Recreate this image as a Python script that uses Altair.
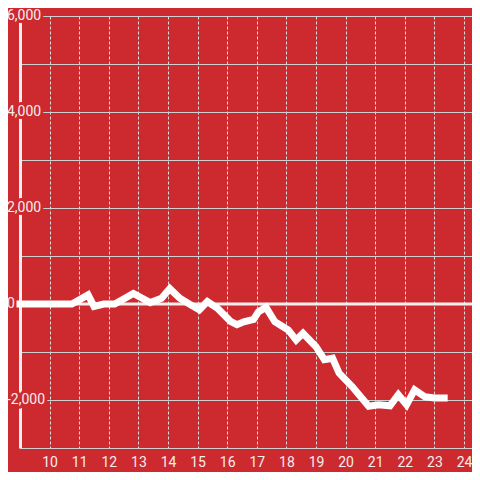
import altair as alt
import pandas as pd

# Series (hour of day, value)
hours = [9.0, 10.75, 11.3, 11.5, 11.83, 12.2, 12.83, 13.4, 13.78, 14.06, 14.4, 14.72,
         15.06, 15.33, 15.67, 16.11, 16.33, 16.56, 16.89, 17.06, 17.31, 17.61, 18.06,
         18.33, 18.56, 19.0, 19.28, 19.56, 19.78, 20.22, 20.78, 21.11, 21.5, 21.78,
         22.06, 22.33, 22.67, 23.0, 23.33]
values = [0, 0, 190, -50, 0, 0, 220, 30, 120, 320, 120, 0,
          -120, 50, -90, -360, -430, -370, -320, -160, -70, -370, -540,
          -750, -610, -890, -1160, -1130, -1440, -1720, -2130, -2100, -2120, -1890,
          -2100, -1790, -1930, -1960, -1960]

x_ticks = list(range(10, 25))
y_grid = list(range(-3000, 7000, 1000))
y_label_values = [-2000, 0, 2000, 4000, 6000]
y_label_texts = ["-2,000", "0", "2,000", "4,000", "6,000"]
zero_value = [0]

RED = "#cc2a2f"
LIGHT = "#f4eeee"
FONT = "Roboto"

df = pd.DataFrame({"hour": hours, "value": values})
labels_df = pd.DataFrame({"value": y_label_values, "text": y_label_texts})
zero_df = pd.DataFrame({"value": zero_value})

x_scale = alt.Scale(domain=[9, 24.27], nice=False, zero=False)
y_scale = alt.Scale(domain=[-3000, 6000], nice=False, zero=False)

zero_rule = alt.Chart(zero_df).mark_rule(color=LIGHT, strokeWidth=3).encode(
    y=alt.Y("value:Q", scale=y_scale)
)

halo = alt.Chart(labels_df).mark_text(
    align="left", baseline="middle", fontSize=14, font=FONT,
    fill=RED, stroke=RED, strokeWidth=6, strokeJoin="round"
).encode(
    x=alt.value(-13),
    y=alt.Y("value:Q", scale=y_scale),
    text="text:N",
)

labels = alt.Chart(labels_df).mark_text(
    align="left", baseline="middle", fontSize=14, font=FONT, color=LIGHT
).encode(
    x=alt.value(-13),
    y=alt.Y("value:Q", scale=y_scale),
    text="text:N",
)

line = alt.Chart(df).mark_line(
    color="white", strokeWidth=7, strokeCap="square", strokeJoin="miter", clip=False
).encode(
    x=alt.X("hour:Q", scale=x_scale, axis=alt.Axis(
        values=x_ticks, grid=True, gridDash=[3, 2], gridColor="#dddddd", gridWidth=1,
        domain=False, ticks=False, labelPadding=7, labelColor=LIGHT, labelFontSize=14,
        labelFont=FONT, labelFlush=False, title=None, labelOverlap=False)),
    y=alt.Y("value:Q", scale=y_scale, axis=alt.Axis(
        values=y_grid, grid=True, gridColor="#d0d0d0", gridWidth=1, labels=False,
        ticks=False, domain=True, domainColor=LIGHT, domainWidth=3, title=None)),
)

chart = alt.layer(zero_rule, halo, labels, line).properties(
    width=452, height=432,
    autosize="none",
    padding={"left": 12, "top": 8, "right": 0, "bottom": 24},
    background=RED,
).configure_view(stroke=None)

chart.save("out.html", embed_options={"renderer": "svg", "actions": False})
